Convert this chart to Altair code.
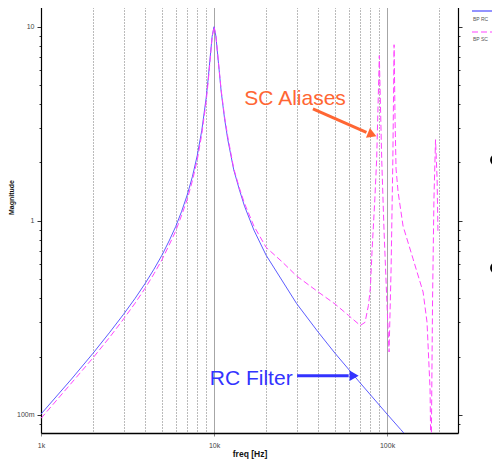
import altair as alt
import pandas as pd

# ---- data ----
rc_freq = [1000, 1500, 2000, 2500, 3000, 3500, 4000, 4500, 5000, 5500, 6000, 6500, 7000, 7500,
           8000, 8500, 9000, 9250, 9500, 9750, 10000, 10250, 10500, 11000, 11500, 12000, 13000,
           14000, 15000, 17000, 20000, 30000, 40000, 50000, 70000, 100000, 120000, 160000, 200000]
rc_mag = [0.101, 0.153, 0.208, 0.267, 0.330, 0.399, 0.476, 0.564, 0.665, 0.788, 0.933, 1.12, 1.36, 1.69,
          2.17, 2.93, 4.28, 5.39, 6.97, 8.92, 10.0, 8.96, 7.15, 4.63, 3.37, 2.63, 1.83,
          1.45, 1.19, 0.896, 0.665, 0.375, 0.267, 0.208, 0.146, 0.101, 0.084, 0.063, 0.050]

sc_freq = [1000, 1500, 2000, 2500, 3000, 3500, 4000, 4500, 5000, 5500, 6000, 6500, 7000, 7500,
           8000, 8500, 9000, 9250, 9500, 9750, 10000, 10250, 10500, 11000, 11500, 12000, 13000,
           14000, 15000, 17000, 20000, 25000, 30000, 40000, 50000, 60000, 70000, 74600, 78000,
           80000, 82000, 85000, 87100, 90200, 93100, 96000, 99600, 102700, 105500, 108000,
           109800, 111200, 112700, 115800, 123700, 141300, 161500, 170200, 177200, 179600,
           183200, 186600, 190600, 194600, 196800]
sc_mag = [0.096, 0.146, 0.197, 0.252, 0.312, 0.377, 0.45, 0.534, 0.63, 0.75, 0.885, 1.07, 1.29, 1.61,
          2.06, 2.8, 4.1, 5.2, 6.8, 8.8, 10.0, 9.0, 7.2, 4.7, 3.45, 2.72, 1.86,
          1.48, 1.23, 0.94, 0.73, 0.61, 0.52, 0.43, 0.373, 0.325, 0.289, 0.30, 0.366,
          0.446, 0.717, 1.3, 2.09, 7.1, 2.09, 0.9, 0.396, 0.211, 0.565, 2.09,
          8.08, 3.36, 1.85, 1.41, 0.94, 0.637, 0.43, 0.30, 0.136, 0.05,
          0.396, 1.3, 2.62, 1.65, 0.877]

x_ticks = [1000, 2000, 3000, 4000, 5000, 6000, 7000, 8000, 9000,
           10000, 20000, 30000, 40000, 50000, 60000, 70000, 80000, 90000,
           100000, 200000]
y_ticks = [0.09, 0.1, 0.2, 0.3, 0.4, 0.5, 0.6, 0.7, 0.8, 0.9,
           1, 2, 3, 4, 5, 6, 7, 8, 9, 10]

series_names = ["BP RC", "BP SC"]
series_colors = ["#4a4aff", "#ff44ff"]

annot_text = ["SC Aliases", "RC Filter"]
annot_f = [29400, 16400]
annot_v = [4.25, 0.153]
annot_colors = ["#ff6633", "#3333ff"]

arrow_f1 = [37300, 30200]
arrow_v1 = [3.78, 0.159]
arrow_f2 = [76000, 60000]
arrow_v2 = [2.86, 0.159]
head_f = [82000, 64500]
head_v = [2.78, 0.159]
head_angle = [22, 0]

# ---- layout ----
W, H = 417, 429
xs = alt.Scale(type="log", domain=[1000, 257000], nice=False)
ys = alt.Scale(type="log", domain=[0.0807, 13.1], nice=False)

rc_df = pd.DataFrame({"f": rc_freq, "v": rc_mag})
sc_df = pd.DataFrame({"f": sc_freq, "v": sc_mag})
ann_df = pd.DataFrame({"t": annot_text, "f": annot_f, "v": annot_v, "c": annot_colors})
arr_df = pd.DataFrame({"f1": arrow_f1, "v1": arrow_v1, "f2": arrow_f2, "v2": arrow_v2,
                       "hf": head_f, "hv": head_v, "a": head_angle, "c": annot_colors})

decade_test = "datum.value == 10000 || datum.value == 100000"
major_y = "datum.value == 0.1 || datum.value == 1 || datum.value == 10"

x_axis_bottom = alt.Axis(
    values=x_ticks,
    labelExpr="datum.value == 1000 ? '1k' : datum.value == 10000 ? '10k' : datum.value == 100000 ? '100k' : ''",
    labelFlush=False, labelOverlap=False,
    labelFontSize=7, labelColor="#444", labelPadding=5,
    grid=True,
    gridColor={"condition": {"test": decade_test, "value": "#888"}, "value": "#777"},
    gridDash={"condition": {"test": decade_test, "value": [1, 0]}, "value": [1, 2]},
    gridWidth=1,
    tickSize={"condition": {"test": "datum.value == 1000 || " + decade_test, "value": 3}, "value": 0},
    tickColor="#888",
    domainColor="black", domainWidth=1.5,
    title="freq [Hz]", titleFontSize=8.5, titleFontWeight="bold", titleColor="#111",
    titlePadding=1,
)
x_axis_top = alt.Axis(orient="top", labels=False, ticks=False, grid=False,
                      domainColor="#555", domainWidth=2.5, title=None)

y_axis_left = alt.Axis(
    values=y_ticks,
    labelExpr="datum.value == 0.1 ? '100m' : datum.value == 1 ? '1' : datum.value == 10 ? '10' : ''",
    labelFlush=False, labelOverlap=False,
    labelFontSize=7, labelColor="#444", labelPadding=3,
    grid=False,
    tickSize={"condition": {"test": major_y, "value": 4}, "value": 2},
    tickColor="#333",
    domainColor="black", domainWidth=1.2,
    title="Magnitude", titleFontSize=7, titleFontWeight="bold", titleColor="#111",
    titleX=-27, titleY=193, titleAngle=270,
)
y_axis_right = alt.Axis(
    orient="right", values=y_ticks, labels=False, grid=False,
    tickSize={"condition": {"test": major_y, "value": 4}, "value": 2},
    tickColor="#333", domainColor="black", domainWidth=1.2, title=None,
)

rc_line = alt.Chart(rc_df).mark_line(color=series_colors[0], strokeWidth=0.9, clip=True).encode(
    x=alt.X("f:Q", scale=xs, axis=x_axis_bottom),
    y=alt.Y("v:Q", scale=ys, axis=y_axis_left),
)
sc_line = alt.Chart(sc_df).mark_line(color=series_colors[1], strokeWidth=1, strokeDash=[6, 3], clip=True).encode(
    x=alt.X("f:Q", scale=xs, axis=x_axis_top),
    y=alt.Y("v:Q", scale=ys, axis=y_axis_right),
)

ann_text = alt.Chart(ann_df).mark_text(font="Liberation Sans", fontSize=21, align="center", baseline="middle").encode(
    x=alt.X("f:Q", scale=xs, axis=None),
    y=alt.Y("v:Q", scale=ys, axis=None),
    text="t:N",
    color=alt.Color("c:N", scale=None),
)
arrows = alt.Chart(arr_df).mark_rule(strokeWidth=3).encode(
    x=alt.X("f1:Q", scale=xs, axis=None), x2="f2:Q",
    y=alt.Y("v1:Q", scale=ys, axis=None), y2="v2:Q",
    color=alt.Color("c:N", scale=None),
)
heads = alt.Chart(arr_df).mark_point(shape="triangle-right", filled=True, size=110, opacity=1).encode(
    x=alt.X("hf:Q", scale=xs, axis=None),
    y=alt.Y("hv:Q", scale=ys, axis=None),
    angle=alt.Angle("a:Q", scale=None),
    color=alt.Color("c:N", scale=None),
)

one = alt.Data(values=[{"k": 1}])
leg_rc_line = alt.Chart(one).mark_rule(color=series_colors[0], strokeWidth=1.2).encode(
    x=alt.value(431), x2=alt.value(460), y=alt.value(7))
leg_rc_txt = alt.Chart(one).mark_text(text=series_names[0], fontSize=5, color="#555", align="left",
                                      baseline="middle", font="Liberation Sans").encode(
    x=alt.value(432), y=alt.value(15))
leg_sc_line = alt.Chart(one).mark_rule(color=series_colors[1], strokeWidth=1.2, strokeDash=[6, 3]).encode(
    x=alt.value(431), x2=alt.value(460), y=alt.value(28))
leg_sc_txt = alt.Chart(one).mark_text(text=series_names[1], fontSize=5, color="#555", align="left",
                                      baseline="middle", font="Liberation Sans").encode(
    x=alt.value(432), y=alt.value(35))
bullet1 = alt.Chart(one).mark_point(filled=True, color="black", size=140, opacity=1).encode(
    x=alt.value(455), y=alt.value(156))
bullet2 = alt.Chart(one).mark_point(filled=True, color="black", size=140, opacity=1).encode(
    x=alt.value(455), y=alt.value(264))

chart = alt.layer(
    rc_line, sc_line, arrows, heads, ann_text,
    leg_rc_line, leg_rc_txt, leg_sc_line, leg_sc_txt, bullet1, bullet2,
).resolve_axis(x="independent", y="independent").properties(
    width=W, height=H,
    autosize="none",
    padding={"left": 33, "top": -4, "right": 34, "bottom": 29},
    background="white",
).configure_view(stroke=None).configure(font="Liberation Sans")

chart.save("out.html", embed_options={"renderer": "svg", "actions": False})
